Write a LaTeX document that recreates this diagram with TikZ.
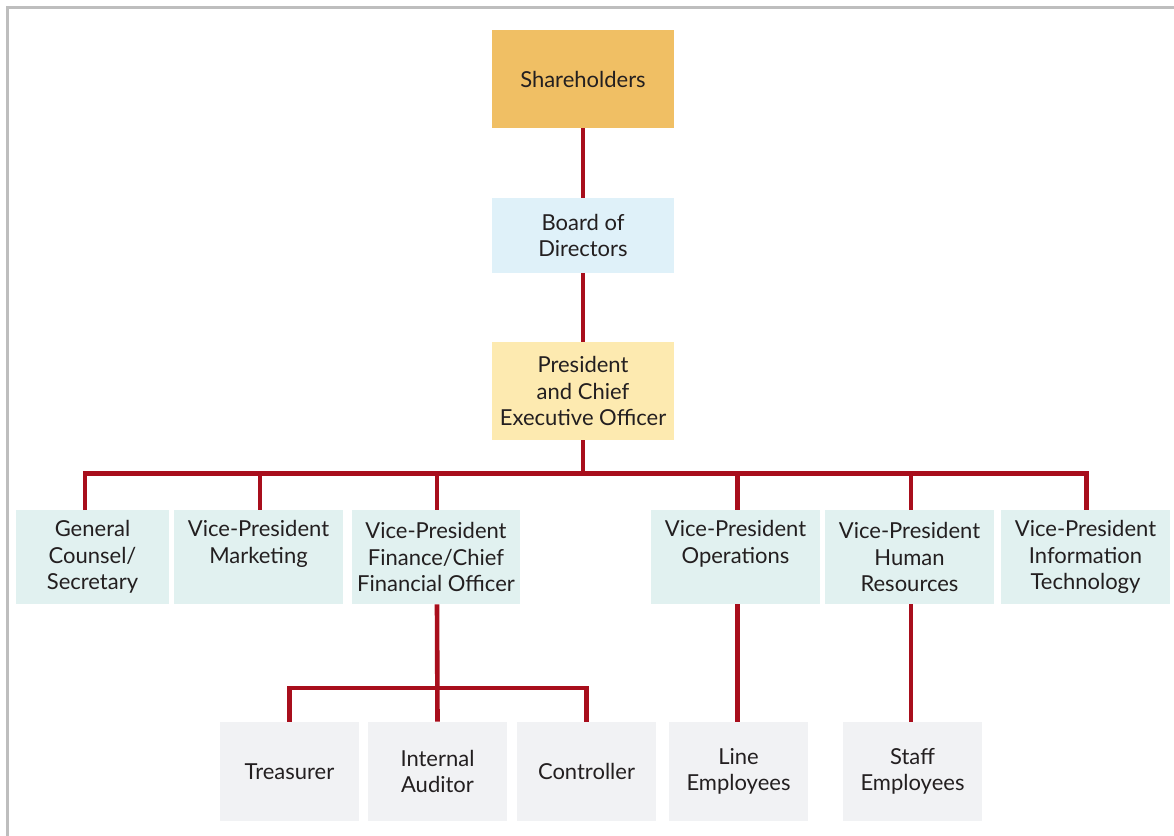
\documentclass[tikz,border=0pt]{standalone}
\usepackage{fontspec}
\setmainfont{Lato}
\definecolor{cOrange}{HTML}{F0BF64}
\definecolor{cBoard}{HTML}{DFF1F9}
\definecolor{cPres}{HTML}{FDEAB0}
\definecolor{cVP}{HTML}{E1F1F0}
\definecolor{cLow}{HTML}{F1F2F4}
\definecolor{cRed}{HTML}{A80E1C}
\definecolor{cText}{HTML}{231F20}
\definecolor{cBorder}{HTML}{BEBEBE}
\begin{document}
\begin{tikzpicture}[x=0.5pt,y=-0.5pt,
  box/.style={inner sep=0pt, align=center, text=cText,
    font=\fontsize{11}{13.3}\selectfont},
  topbox/.style={box, minimum width=91pt, minimum height=#1},
  vpbox/.style={box, fill=cVP, minimum height=47pt},
  lowbox/.style={box, fill=cLow, minimum height=49.5pt, minimum width=69.5pt},
  conn/.style={draw=cRed, line width=2.3pt}]
\useasboundingbox (0,0) rectangle (1174,836);
% frame
\draw[cBorder, line width=1.5pt] (7.5,836) -- (7.5,7.5) -- (1174,7.5);
% top chain
\node[topbox=49pt, fill=cOrange] (sh) at (583,79) {Shareholders};
\node[topbox=37.5pt, fill=cBoard] (bd) at (583,235.5) {Board of\\Directors};
\node[topbox=49pt, fill=cPres] (pr) at (583,391) {President\\and Chief\\Executive Officer};
% VPs
\node[vpbox, minimum width=76.5pt] (gc) at (92.5,557) {General\\Counsel/\\Secretary};
\node[vpbox, minimum width=84.5pt] (mk) at (258.5,557) {Vice-President\\Marketing\\\phantom{g}};
\node[vpbox, minimum width=84pt] (fi) at (436,557) {Vice-President\\Finance/Chief\\Financial Officer};
\node[vpbox, minimum width=84.5pt] (op) at (735.5,557) {Vice-President\\Operations\\\phantom{g}};
\node[vpbox, minimum width=84.5pt] (hr) at (909.5,557) {Vice-President\\Human\\Resources};
\node[vpbox, minimum width=84.5pt] (it) at (1085.5,557) {Vice-President\\Information\\Technology};
% lower
\node[lowbox] (tr) at (289.5,771.5) {Treasurer};
\node[lowbox] (ia) at (437.5,771.5) {Internal\\Auditor};
\node[lowbox] (co) at (586.5,771.5) {Controller};
\node[lowbox] (le) at (738.5,771.5) {Line\\Employees};
\node[lowbox] (se) at (912.5,771.5) {Staff\\Employees};
% connector helpers
\coordinate (barA) at (0,473.5);
\coordinate (barB) at (0,688);
\coordinate (gcT) at (85,510);
% connectors
\draw[conn] (sh.south) -- (bd.north);
\draw[conn] (bd.south) -- (pr.north);
\draw[conn] (pr.south) -- (pr.south |- barA);
\draw[conn] (gcT) -- (gcT |- barA) -- ([xshift=0.5pt]it.north |- barA) -- ([xshift=0.5pt]it.north);
\draw[conn] ([xshift=0.75pt]mk.north |- barA) -- ([xshift=0.75pt]mk.north);
\draw[conn] ([xshift=0.5pt]fi.north |- barA) -- ([xshift=0.5pt]fi.north);
\draw[conn] ([xshift=1pt]op.north |- barA) -- ([xshift=1pt]op.north);
\draw[conn] ([xshift=0.75pt]hr.north |- barA) -- ([xshift=0.75pt]hr.north);
\draw[conn] ([xshift=0.5pt]fi.south) -- (ia.north);
\draw[conn] (tr.north) -- (tr.north |- barB) -- (co.north |- barB) -- (co.north);
\draw[conn] ([xshift=1pt]op.south) -- ([xshift=1pt]op.south |- le.north);
\draw[conn] ([xshift=0.75pt]hr.south) -- ([xshift=0.75pt]hr.south |- se.north);
\end{tikzpicture}
\end{document}
